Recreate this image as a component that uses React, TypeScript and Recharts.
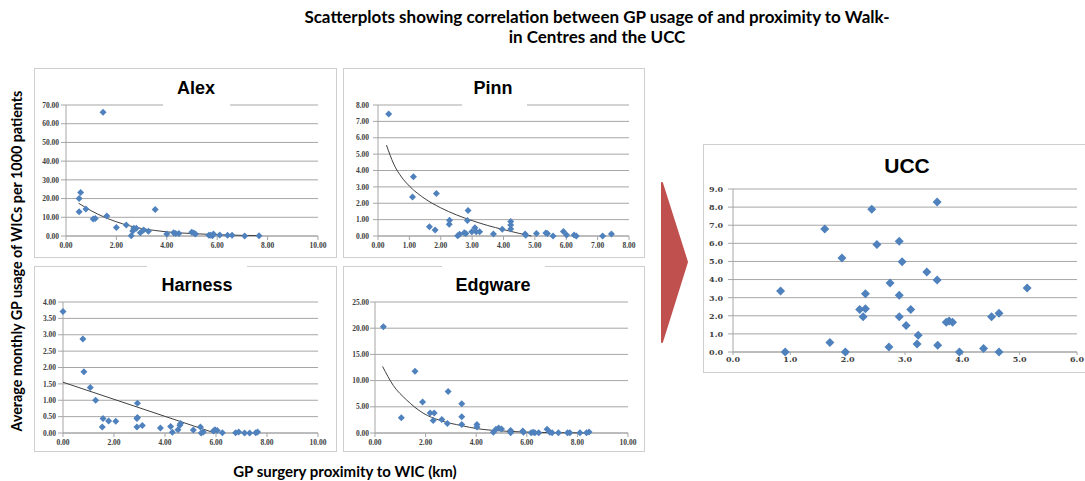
import React from 'react';
import { ScatterChart, Scatter, XAxis, YAxis, CartesianGrid } from 'recharts';

// [distance km, usage per 1000]
const alexPoints: [number, number][] = [
  [0.52, 13.0], [0.52, 20.1], [0.58, 23.3], [0.79, 14.4], [1.08, 9.1], [1.16, 9.4], [1.47, 66.1],
  [1.62, 10.7], [2.0, 4.5], [2.39, 5.9], [2.59, 0.2], [2.65, 2.7], [2.69, 4.1], [2.79, 4.1],
  [2.95, 1.8], [3.08, 3.2], [3.27, 2.5], [3.54, 14.1], [4.0, 1.1], [4.27, 1.8], [4.35, 1.4],
  [4.48, 1.4], [4.99, 2.0], [5.07, 1.6], [5.14, 1.1], [5.67, 0.4], [5.73, 0.4], [5.81, 0.2],
  [5.85, 1.1], [6.1, 0.5], [6.41, 0.4], [6.59, 0.4], [7.09, 0.0], [7.66, 0.1],
];
const alexTrend: [number, number][] = [
  [0.5, 17.5], [1, 13.5], [1.5, 10.2], [2, 7.6], [2.5, 5.5], [3, 4.0], [3.5, 3.0], [4, 2.2],
  [5, 1.3], [6, 0.7], [7, 0.35], [7.7, 0.2],
];

const pinnPoints: [number, number][] = [
  [0.34, 7.45], [1.13, 3.62], [1.1, 2.38], [1.86, 2.59], [1.64, 0.57], [1.82, 0.37], [2.28, 0.96],
  [2.27, 0.71], [2.54, 0.02], [2.6, 0.1], [2.75, 0.2], [2.8, 0.16], [2.87, 1.55], [2.85, 0.94],
  [2.99, 0.26], [3.09, 0.51], [3.13, 0.26], [3.24, 0.26], [3.68, 0.12], [3.96, 0.41], [4.23, 0.88],
  [4.23, 0.67], [4.23, 0.43], [4.69, 0.12], [4.71, 0.04], [5.05, 0.16], [5.35, 0.18], [5.4, 0.16],
  [5.58, 0.0], [5.91, 0.28], [6.01, 0.06], [6.25, 0.06], [6.32, 0.0], [7.16, 0.0], [7.44, 0.12],
];
const pinnTrend: [number, number][] = [
  [0.27, 5.55], [0.5, 4.4], [0.75, 3.6], [1, 3.05], [1.5, 2.27], [2, 1.72], [2.5, 1.29],
  [3, 0.94], [3.5, 0.64], [4, 0.39], [4.5, 0.16], [4.89, 0.0],
];

const harnessPoints: [number, number][] = [
  [0.0, 3.71], [0.78, 2.87], [0.82, 1.87], [1.07, 1.39], [1.28, 1.0], [1.54, 0.18], [1.57, 0.44],
  [1.79, 0.37], [2.07, 0.36], [2.92, 0.91], [2.9, 0.44], [2.92, 0.47], [2.9, 0.18], [3.11, 0.23],
  [3.82, 0.15], [4.22, 0.2], [4.29, 0.02], [4.51, 0.1], [4.58, 0.24], [4.61, 0.29], [5.11, 0.09],
  [5.39, 0.18], [5.42, 0.0], [5.5, 0.03], [5.9, 0.06], [5.96, 0.1], [6.05, 0.08], [6.25, 0.01],
  [6.77, 0.01], [6.89, 0.03], [7.12, 0.0], [7.32, 0.0], [7.56, 0.01], [7.63, 0.03],
];
const harnessTrend: [number, number][] = [[0, 1.55], [5.95, 0]];

const edgwarePoints: [number, number][] = [
  [0.33, 20.3], [1.04, 2.9], [1.58, 11.8], [1.88, 5.9], [2.18, 3.8], [2.34, 3.8], [2.3, 2.4],
  [2.64, 2.6], [2.86, 1.8], [2.89, 7.9], [3.43, 5.6], [3.43, 3.1], [3.43, 1.6], [4.03, 1.6],
  [4.03, 1.15], [4.68, 0.13], [4.78, 0.7], [4.89, 0.96], [5.0, 0.77], [5.36, 0.5], [5.36, 0.06],
  [5.84, 0.38], [5.87, 0.13], [6.17, 0.06], [6.25, 0.13], [6.32, 0.06], [6.47, 0.06], [6.8, 0.7],
  [6.91, 0.13], [7.0, 0.06], [7.25, 0.06], [7.61, 0.06], [7.7, 0.06], [8.1, 0.06], [8.36, 0.06],
  [8.46, 0.2],
];
const edgwareTrend: [number, number][] = [
  [0.3, 12.7], [0.72, 9.1], [1.25, 6.3], [1.9, 3.8], [2.57, 2.4], [3.43, 1.4], [4.03, 0.83],
  [4.67, 0.5], [5.86, 0.2], [7.2, 0.06], [8.46, 0.02],
];

const uccPoints: [number, number][] = [
  [0.83, 3.37], [0.91, 0.0], [1.6, 6.79], [1.69, 0.53], [1.9, 5.19], [1.96, 0.0], [2.21, 2.34],
  [2.27, 1.95], [2.31, 3.22], [2.31, 2.39], [2.42, 7.88], [2.51, 5.93], [2.72, 0.28], [2.74, 3.81],
  [2.9, 6.11], [2.9, 3.13], [2.9, 1.95], [2.95, 4.99], [3.02, 1.47], [3.1, 2.34], [3.23, 0.92],
  [3.21, 0.44], [3.38, 4.42], [3.56, 8.28], [3.56, 3.98], [3.57, 0.37], [3.72, 1.64], [3.77, 1.71],
  [3.83, 1.64], [3.95, 0.0], [4.37, 0.2], [4.51, 1.95], [4.64, 2.14], [4.64, 0.0], [5.13, 3.53],
];

const ticks2dp10 = [0, 2, 4, 6, 8, 10];
const alexYTicks = [0, 10, 20, 30, 40, 50, 60, 70];
const pinnTicks = [0, 1, 2, 3, 4, 5, 6, 7, 8];
const harnessYTicks = [0, 0.5, 1, 1.5, 2, 2.5, 3, 3.5, 4];
const edgwareYTicks = [0, 5, 10, 15, 20, 25];
const uccXTicks = [0, 1, 2, 3, 4, 5, 6];
const uccYTicks = [0, 1, 2, 3, 4, 5, 6, 7, 8, 9];

const BLUE = '#4F81BD';
const toObj = (arr: [number, number][]) => arr.map(([x, y]) => ({ x, y }));

const diamond = (r: number) => (props: any) => {
  const { cx, cy } = props;
  if (cx == null || cy == null) return <g />;
  return <path d={`M${cx},${cy - r}L${cx + r},${cy}L${cx},${cy + r}L${cx - r},${cy}Z`} fill={BLUE} />;
};
const noDot = () => <g />;

interface PanelProps {
  title: string;
  left: number; top: number; width: number; height: number;
  margin: { top: number; right: number; bottom: number; left: number };
  yWidth: number; xHeight: number;
  xTicks: number[]; yTicks: number[]; decimals: number;
  points: [number, number][]; trend?: [number, number][];
  titleCx: number; titleCy: number; titleSize: number;
  cover: { left: number; top: number; width: number; height: number };
  r: number; tickFont: number; tickFamily: string;
  xTickSize: number; xTickMargin: number; yTickMargin: number;
}

const Panel: React.FC<PanelProps> = (p) => {
  const tickStyle = { fontSize: p.tickFont, fill: '#404040', fontFamily: p.tickFamily, fontWeight: 'bold' as const };
  const fmt = (v: number) => v.toFixed(p.decimals);
  return (
    <>
      <div style={{ position: 'absolute', left: p.left, top: p.top, width: p.width, height: p.height, border: '1px solid #cfcfcf', boxSizing: 'border-box' }} />
      <div style={{ position: 'absolute', left: p.left, top: p.top }}>
        <ScatterChart width={p.width} height={p.height} margin={p.margin}>
          <CartesianGrid vertical={false} stroke="#a6a6a6" />
          <XAxis type="number" dataKey="x" domain={[p.xTicks[0], p.xTicks[p.xTicks.length - 1]]} ticks={p.xTicks}
            tickFormatter={fmt} tick={tickStyle} stroke="#a6a6a6" tickSize={p.xTickSize} tickMargin={p.xTickMargin} height={p.xHeight} interval={0} />
          <YAxis type="number" dataKey="y" domain={[p.yTicks[0], p.yTicks[p.yTicks.length - 1]]} ticks={p.yTicks}
            tickFormatter={fmt} tick={tickStyle} stroke="#a6a6a6" tickSize={5} tickMargin={p.yTickMargin} width={p.yWidth} interval={0} />
          {p.trend && (
            <Scatter data={toObj(p.trend)} line={{ stroke: '#404040', strokeWidth: 1 }} lineJointType="monotoneX"
              shape={noDot} isAnimationActive={false} />
          )}
          <Scatter data={toObj(p.points)} shape={diamond(p.r)} isAnimationActive={false} />
        </ScatterChart>
      </div>
      <div style={{ position: 'absolute', background: '#fff', ...p.cover }} />
      <div style={{ position: 'absolute', left: p.titleCx - 100, top: p.titleCy - 13, width: 200, height: 26, lineHeight: '26px',
        textAlign: 'center', fontFamily: 'Liberation Sans, Arial', fontWeight: 'bold', fontSize: p.titleSize, color: '#000' }}>
        {p.title}
      </div>
    </>
  );
};

const small = { tickFont: 7.5, tickFamily: 'Liberation Serif', xTickSize: 4, xTickMargin: 3 };

export default function App() {
  return (
    <div style={{ position: 'fixed', left: 0, top: 0, width: 1085, height: 481, overflow: 'hidden', background: '#fff' }}>
      <div style={{ position: 'absolute', left: 197, top: 7, width: 800, textAlign: 'center', fontFamily: 'Lato', fontWeight: 'bold', fontSize: 17, lineHeight: '20px', color: '#000' }}>
        Scatterplots showing correlation between GP usage of and proximity to Walk-<br />in Centres and the UCC
      </div>

      <Panel title="Alex" left={34} top={68} width={303} height={190}
        margin={{ top: 37, right: 19, bottom: 4, left: 0 }} yWidth={32} xHeight={18}
        xTicks={ticks2dp10} yTicks={alexYTicks} decimals={2} points={alexPoints} trend={alexTrend}
        titleCx={196} titleCy={88} titleSize={18} cover={{ left: 163, top: 76, width: 67, height: 32 }} r={3.5}
        {...small} yTickMargin={2} />

      <Panel title="Pinn" left={343} top={68} width={302} height={190}
        margin={{ top: 37, right: 16, bottom: 4, left: 0 }} yWidth={35} xHeight={18}
        xTicks={pinnTicks} yTicks={pinnTicks} decimals={2} points={pinnPoints} trend={pinnTrend}
        titleCx={493} titleCy={88} titleSize={18} cover={{ left: 462, top: 76, width: 65, height: 32 }} r={3.5}
        {...small} yTickMargin={4} />

      <Panel title="Harness" left={34} top={266} width={303} height={186}
        margin={{ top: 36, right: 19, bottom: 1, left: 0 }} yWidth={29} xHeight={18}
        xTicks={ticks2dp10} yTicks={harnessYTicks} decimals={2} points={harnessPoints} trend={harnessTrend}
        titleCx={197} titleCy={285} titleSize={18} cover={{ left: 147, top: 264, width: 100, height: 34 }} r={3.5}
        {...small} yTickMargin={2} />

      <Panel title="Edgware" left={343} top={266} width={302} height={186}
        margin={{ top: 36, right: 17, bottom: 1, left: 0 }} yWidth={32} xHeight={18}
        xTicks={ticks2dp10} yTicks={edgwareYTicks} decimals={2} points={edgwarePoints} trend={edgwareTrend}
        titleCx={493} titleCy={285} titleSize={18} cover={{ left: 442, top: 264, width: 103, height: 34 }} r={3.5}
        {...small} yTickMargin={1} />

      <Panel title="UCC" left={703} top={144} width={390} height={229}
        margin={{ top: 45, right: 16, bottom: 1, left: 0 }} yWidth={30} xHeight={20}
        xTicks={uccXTicks} yTicks={uccYTicks} decimals={1} points={uccPoints}
        titleCx={907} titleCy={166} titleSize={21} cover={{ left: 870, top: 152, width: 74, height: 30 }} r={4.5}
        tickFont={8} tickFamily="DejaVu Serif" xTickSize={3} xTickMargin={1} yTickMargin={5} />

      <svg style={{ position: 'absolute', left: 655, top: 175 }} width={40} height={175}>
        <polygon points="7,8 7,167 32,87" fill="#C0504D" stroke="#C0504D" strokeWidth={2} strokeLinejoin="round" />
      </svg>

      <div style={{ position: 'absolute', left: 17 - 200, top: 261 - 10, width: 400, height: 20, lineHeight: '20px', textAlign: 'center',
        transform: 'rotate(-90deg)', fontFamily: 'Lato', fontWeight: 'bold', fontSize: 14.3, color: '#000', whiteSpace: 'nowrap' }}>
        Average monthly GP usage of WICs per 1000 patients
      </div>
      <div style={{ position: 'absolute', left: 145, top: 461, width: 400, textAlign: 'center', fontFamily: 'Lato', fontWeight: 'bold',
        fontSize: 15, lineHeight: '20px', color: '#000' }}>
        GP surgery proximity to WIC (km)
      </div>
    </div>
  );
}
